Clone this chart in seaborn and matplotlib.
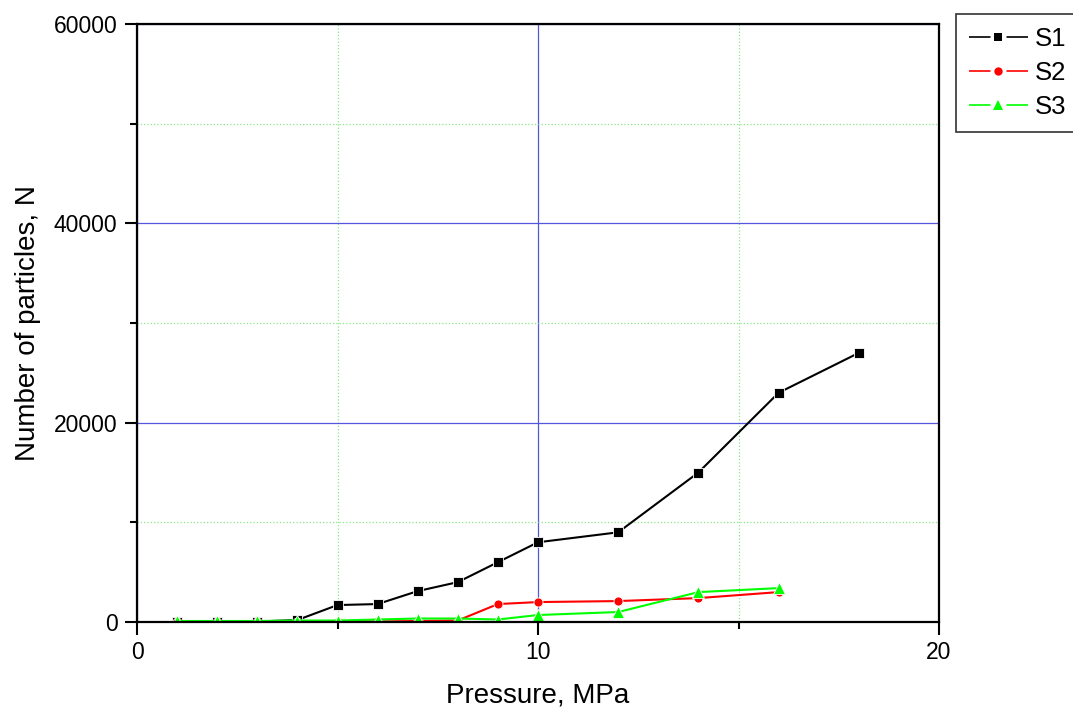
import pandas as pd
import seaborn as sns
import matplotlib.pyplot as plt
from matplotlib.ticker import MultipleLocator

# pressure values (MPa) and particle counts
pressure_s1 = [1, 2, 3, 4, 5, 6, 7, 8, 9, 10, 12, 14, 16, 18]
particles_s1 = [50, 50, 50, 200, 1700, 1800, 3100, 4000, 6000, 8000, 9000, 15000, 23000, 27000]

pressure_s2 = [1, 2, 3, 4, 5, 6, 7, 8, 9, 10, 12, 14, 16]
particles_s2 = [50, 50, 50, 50, 50, 50, 100, 150, 1800, 2000, 2100, 2400, 3000]

pressure_s3 = [1, 2, 3, 4, 5, 6, 7, 8, 9, 10, 12, 14, 16]
particles_s3 = [100, 100, 100, 150, 150, 250, 350, 350, 250, 700, 1000, 3000, 3400]

series_names = ["S1", "S2", "S3"]
series_colors = {"S1": "black", "S2": "#ff0000", "S3": "#00ff00"}
series_markers = {"S1": "s", "S2": "o", "S3": "^"}

df = pd.concat([
    pd.DataFrame({"Pressure": pressure_s1, "N": particles_s1, "Series": "S1"}),
    pd.DataFrame({"Pressure": pressure_s2, "N": particles_s2, "Series": "S2"}),
    pd.DataFrame({"Pressure": pressure_s3, "N": particles_s3, "Series": "S3"}),
], ignore_index=True)

sns.set_style("white")
plt.rcParams["font.family"] = ["Liberation Sans", "DejaVu Sans"]
plt.rcParams["text.color"] = "black"
plt.rcParams["axes.labelcolor"] = "black"
plt.rcParams["xtick.color"] = "black"
plt.rcParams["ytick.color"] = "black"

fig = plt.figure(figsize=(10.73, 7.11), dpi=100)
ax = fig.add_axes([137 / 1073, 1 - 622 / 711, (939 - 137) / 1073, (622 - 24) / 711])

sns.lineplot(data=df, x="Pressure", y="N", hue="Series", style="Series",
             hue_order=series_names, style_order=series_names,
             palette=series_colors, markers=series_markers, dashes=False,
             linewidth=1.5, markersize=6.5, markeredgewidth=0.6,
             markeredgecolor="white", ax=ax)

for line in ax.lines:
    if line.get_marker() == "^":
        line.set_markersize(8)

ax.set_xlim(0, 20)
ax.set_ylim(0, 60000)
ax.xaxis.set_major_locator(MultipleLocator(10))
ax.xaxis.set_minor_locator(MultipleLocator(5))
ax.yaxis.set_major_locator(MultipleLocator(20000))
ax.yaxis.set_minor_locator(MultipleLocator(10000))

ax.grid(which="major", color="#5555dd", linestyle="-", linewidth=0.9)
ax.grid(which="minor", color="#88e888", linestyle=":", linewidth=0.9)
ax.set_axisbelow(True)

for sp in ax.spines.values():
    sp.set_visible(True)
    sp.set_color("black")
    sp.set_linewidth(1.6)

ax.tick_params(which="major", direction="out", length=9, width=1.5, labelsize=16.5,
               bottom=True, left=True, top=False, right=False, pad=5)
ax.tick_params(which="minor", direction="out", length=5, width=1.5,
               bottom=True, left=True, top=False, right=False)

ax.set_xlabel("Pressure, MPa", fontsize=20, labelpad=13)
ax.set_ylabel("Number of particles, N", fontsize=20, labelpad=9)

handles, labels = ax.get_legend_handles_labels()
leg = ax.legend(handles, labels, loc="upper left",
                bbox_to_anchor=(956 / 1073, 1 - 14 / 711), bbox_transform=fig.transFigure,
                fontsize=18.5, frameon=True, fancybox=False, shadow=False,
                borderpad=0.5, labelspacing=0.4, handlelength=2.3, handletextpad=0.25,
                borderaxespad=0)
leg.get_frame().set_edgecolor("black")
leg.get_frame().set_linewidth(1.2)
# Origin-style handle: line broken around the marker
for h in leg.legend_handles:
    h.set_linewidth(1.2)
    h.set_linestyle((0, (12.9, 9.6, 12.9, 60)))
    h.set_markeredgewidth(0)
    h.set_markersize(7.5 if h.get_marker() == "^" else 6)

fig.savefig("out.png", dpi=100)
